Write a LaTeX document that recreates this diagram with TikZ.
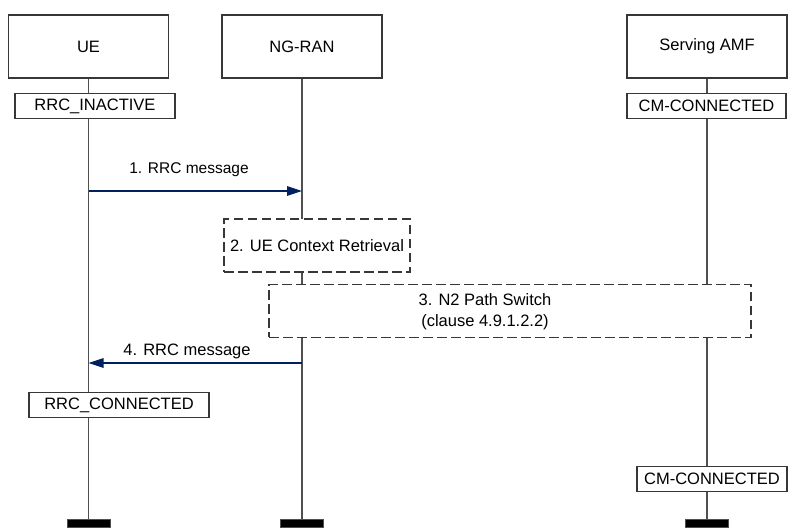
\documentclass[tikz,border=0pt]{standalone}
\usepackage{fontspec}
\setmainfont{Liberation Sans}
\usetikzlibrary{arrows.meta,backgrounds}
\definecolor{msgblue}{RGB}{0,32,96}
\definecolor{lifegray}{RGB}{80,80,80}
\definecolor{boxgray}{RGB}{55,55,55}
\begin{document}
\begin{tikzpicture}[x=1pt,y=-1pt,
  txt/.style={font=\fontsize{16.5}{20}\selectfont},
  entity/.style={txt,draw=boxgray,line width=1.2pt,fill=white,minimum width=160pt,minimum height=63pt,inner sep=0pt},
  statebox/.style={txt,draw=boxgray,line width=1.2pt,fill=white,minimum height=25pt,inner sep=0pt},
  procbox/.style={txt,draw=boxgray,line width=1.2pt,dash pattern=on 9.5pt off 4.5pt,fill=white,inner sep=0pt},
  life/.style={draw=lifegray,line width=1.2pt},
  msg/.style={draw=msgblue,line width=1.2pt,-{Triangle[length=15pt,width=9.5pt]}},
  endbar/.style={fill=black,draw=lifegray,line width=0.8pt,minimum width=43pt,minimum height=8pt,inner sep=0pt}]
\useasboundingbox (0,0) rectangle (789,527);

% entities
\node[entity] (ue)  at (88.5,46.5)  {UE};
\node[entity] (ran) at (302,46.5) {NG-RAN};
\node[entity] (amf) at (707,46.5) {Serving AMF};

% states
\node[statebox,minimum width=160pt] (rrcin) at (95,106)  {RRC\_INACTIVE};
\node[statebox,minimum width=159pt] (cm1)   at (706.5,106) {CM-CONNECTED};
\node[statebox,minimum width=180pt] (rrcco) at (119,405) {RRC\_CONNECTED};
\node[statebox,minimum width=150pt] (cm2)   at (712,479) {CM-CONNECTED};

% procedures
\node[procbox,minimum width=186pt,minimum height=53pt] (p2) at (317,245.5) {2. UE Context Retrieval};
\node[procbox,minimum width=482pt,minimum height=52.5pt] (p3) at (510,311) {};
\node[txt,align=center,inner sep=0pt] (p3t) at (485,312) {3. N2 Path Switch\\[1pt](clause 4.9.1.2.2)};

% end bars
\node[endbar] (uebar)  at (88.5,523) {};
\node[endbar] (ranbar) at (302,523) {};
\node[endbar] (amfbar) at (707,523) {};

% messages
\draw[msg] (ue.south |- 0,191) -- (ran.south |- 0,191);
\node[font=\fontsize{15.5}{18}\selectfont] (l1) at (189,170) {1. RRC message};
\draw[msg] (ran.south |- 0,363) -- (ue.south |- 0,363);
\node[txt] (l4) at (187,351) {4. RRC message};

% lifelines
\begin{scope}[on background layer]
\draw[life] (ue.south) -- (uebar.north);
\draw[life] (ran.south) -- (ranbar.north);
\draw[life] (amf.south) -- (amfbar.north);
\end{scope}
\end{tikzpicture}
\end{document}
